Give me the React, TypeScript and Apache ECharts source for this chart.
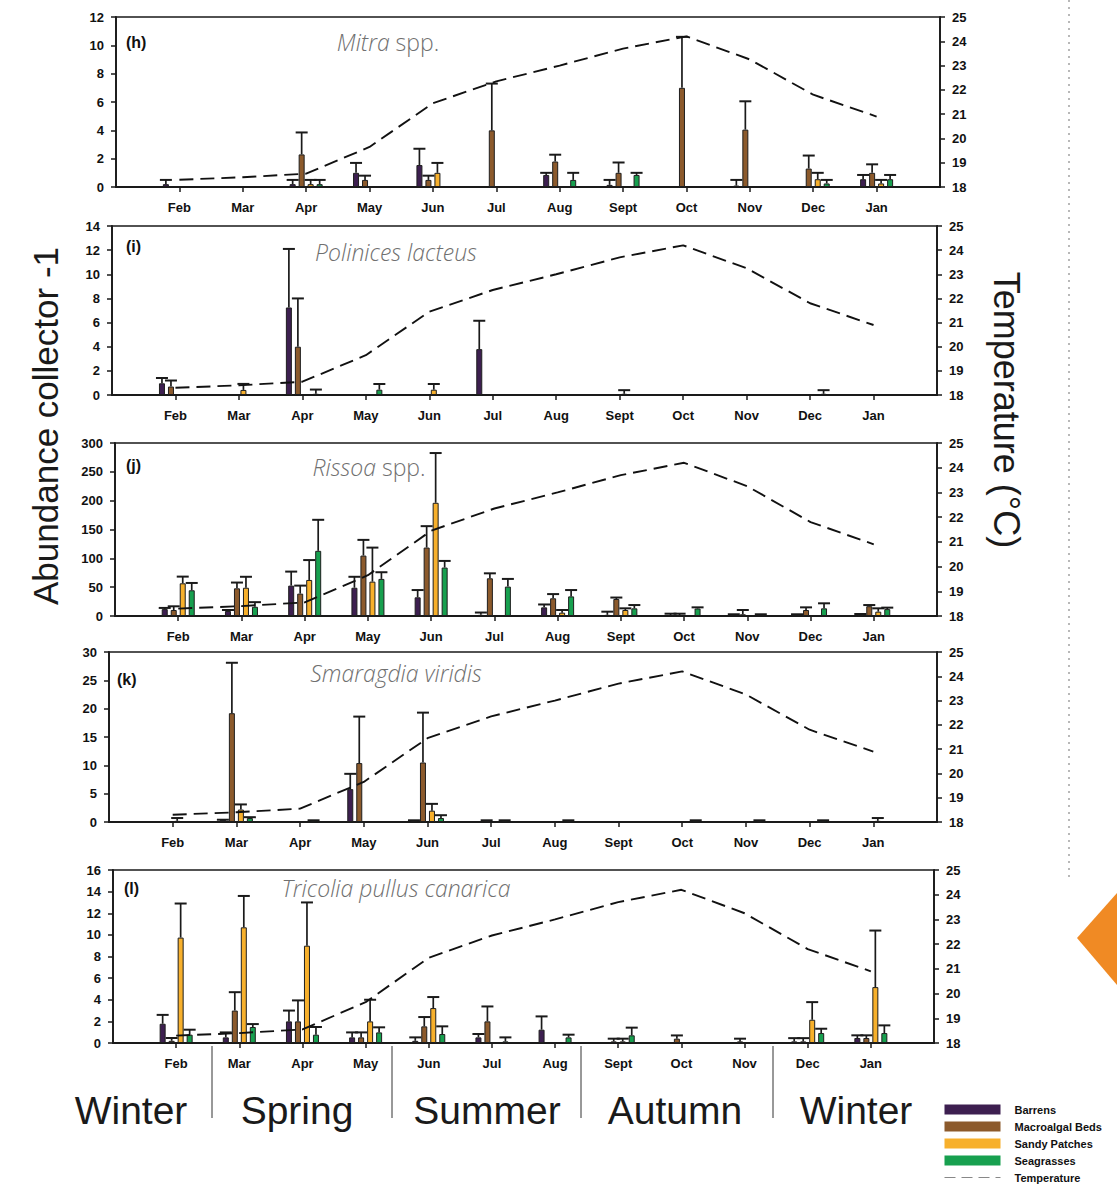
import React, { useEffect, useRef } from 'react';
import * as echarts from 'echarts';

const months = ['Feb', 'Mar', 'Apr', 'May', 'Jun', 'Jul', 'Aug', 'Sept', 'Oct', 'Nov', 'Dec', 'Jan'];
const temperature = [18.3, 18.4, 18.55, 19.65, 21.45, 22.35, 23.0, 23.7, 24.2, 23.25, 21.8, 20.9];

const habitats = ['Barrens', 'Macroalgal Beds', 'Sandy Patches', 'Seagrasses'];
const habitatColors = ['#3d1f50', '#8c5a2c', '#f7b02c', '#17a04f'];

// (h) Mitra spp.
const mitraBarrens = [0.2, 0, 0.2, 1.0, 1.55, 0, 0.85, 0.15, 0, 0.1, 0, 0.55];
const mitraBarrensErr = [0.3, 0, 0.3, 0.7, 1.15, 0, 0.15, 0.35, 0, 0.4, 0, 0.3];
const mitraMacro = [0, 0, 2.3, 0.5, 0.5, 4.0, 1.8, 1.0, 7.0, 4.05, 1.3, 1.0];
const mitraMacroErr = [0, 0, 1.55, 0.3, 0.3, 3.3, 0.48, 0.73, 3.6, 2.0, 0.92, 0.6];
const mitraSandy = [0, 0, 0.2, 0, 1.0, 0, 0, 0, 0, 0, 0.55, 0.25];
const mitraSandyErr = [0, 0, 0.3, 0, 0.7, 0, 0, 0, 0, 0, 0.45, 0.25];
const mitraSeagrass = [0, 0, 0.2, 0, 0, 0, 0.5, 0.85, 0, 0, 0.25, 0.55];
const mitraSeagrassErr = [0, 0, 0.3, 0, 0, 0, 0.5, 0.15, 0, 0, 0.25, 0.3];

// (i) Polinices lacteus
const polBarrens = [0.97, 0, 7.25, 0, 0, 3.8, 0, 0, 0, 0, 0, 0];
const polBarrensErr = [0.44, 0, 4.85, 0, 0, 2.35, 0, 0, 0, 0, 0, 0];
const polMacro = [0.7, 0, 4.0, 0, 0, 0, 0, 0, 0, 0, 0, 0];
const polMacroErr = [0.5, 0, 4.0, 0, 0, 0, 0, 0, 0, 0, 0, 0];
const polSandy = [0, 0.42, 0, 0, 0.44, 0, 0, 0.1, 0, 0, 0, 0];
const polSandyErr = [0, 0.5, 0, 0, 0.47, 0, 0, 0.3, 0, 0, 0, 0];
const polSeagrass = [0, 0, 0.1, 0.44, 0, 0, 0, 0, 0, 0, 0.1, 0];
const polSeagrassErr = [0, 0, 0.35, 0.47, 0, 0, 0, 0, 0, 0, 0.3, 0];

// (j) Rissoa spp.
const risBarrens = [12, 8.7, 52.7, 49, 32.4, 2, 15, 2, 1, 1, 1, 1];
const risBarrensErr = [2, 1.7, 24.3, 19, 12.6, 4, 5, 5.5, 3, 2, 2, 2.5];
const risMacro = [10.4, 48, 38.8, 104.8, 118.7, 65.4, 30.7, 29.5, 1, 3, 10.4, 17];
const risMacroErr = [6.4, 10, 13.9, 27.2, 37.1, 8.6, 7.3, 2.5, 3, 7.4, 4.6, 2];
const risSandy = [56.7, 49, 62.5, 59.6, 196.3, 0, 5.8, 10.4, 0, 0, 0, 7.5];
const risSandyErr = [11.6, 19, 34.5, 59, 86.3, 0, 4.6, 2.9, 0, 0, 0, 5.8];
const risSeagrass = [44.6, 16, 113, 64.3, 84, 51, 34, 13.3, 13, 1, 13.3, 12];
const risSeagrassErr = [12.7, 8, 53.8, 11.6, 11.5, 13.3, 11, 5.7, 2, 2, 8.7, 2.5];

// (k) Smaragdia viridis
const smaBarrens = [0, 0.4, 0, 5.8, 0.3, 0, 0, 0, 0, 0, 0, 0];
const smaBarrensErr = [0, 0, 0, 2.7, 0, 0, 0, 0, 0, 0, 0, 0];
const smaMacro = [0, 19.2, 0, 10.4, 10.5, 0.3, 0, 0, 0, 0, 0, 0];
const smaMacroErr = [0, 8.9, 0, 8.2, 8.8, 0, 0, 0, 0, 0, 0, 0];
const smaSandy = [0.2, 2.2, 0, 0, 2.0, 0, 0, 0, 0, 0, 0, 0.2];
const smaSandyErr = [0.5, 0.9, 0, 0, 1.2, 0, 0, 0, 0, 0, 0, 0.5];
const smaSeagrass = [0, 0.7, 0.3, 0, 0.7, 0.3, 0.3, 0, 0.3, 0.3, 0.3, 0];
const smaSeagrassErr = [0, 0.15, 0, 0, 0.5, 0, 0, 0, 0, 0, 0, 0];

// (l) Tricolia pullus canarica
const triBarrens = [1.78, 0.52, 2.0, 0.52, 0.2, 0.52, 1.23, 0, 0, 0, 0.15, 0.46];
const triBarrensErr = [0.82, 0.46, 1.0, 0.46, 0.32, 0.31, 1.23, 0, 0, 0, 0.3, 0.25];
const triMacro = [0.2, 3.0, 2.0, 0.52, 1.54, 2.0, 0, 0.15, 0.4, 0.15, 0.15, 0.46];
const triMacroErr = [0.26, 1.7, 1.94, 0.46, 0.86, 1.38, 0, 0.25, 0.3, 0.25, 0.3, 0.25];
const triSandy = [9.75, 10.7, 9.0, 2.0, 3.23, 0, 0, 0.15, 0, 0, 2.15, 5.17];
const triSandyErr = [3.15, 2.9, 4.0, 2.0, 1.02, 0, 0, 0.25, 0, 0, 1.63, 5.23];
const triSeagrass = [0.77, 1.48, 0.77, 0.98, 0.83, 0.15, 0.52, 0.71, 0, 0, 0.92, 0.92];
const triSeagrassErr = [0.46, 0.27, 0.71, 0.47, 0.71, 0.37, 0.25, 0.71, 0, 0, 0.4, 0.71];

const panelMeans = [
  [mitraBarrens, mitraMacro, mitraSandy, mitraSeagrass],
  [polBarrens, polMacro, polSandy, polSeagrass],
  [risBarrens, risMacro, risSandy, risSeagrass],
  [smaBarrens, smaMacro, smaSandy, smaSeagrass],
  [triBarrens, triMacro, triSandy, triSeagrass],
];
const panelErrs = [
  [mitraBarrensErr, mitraMacroErr, mitraSandyErr, mitraSeagrassErr],
  [polBarrensErr, polMacroErr, polSandyErr, polSeagrassErr],
  [risBarrensErr, risMacroErr, risSandyErr, risSeagrassErr],
  [smaBarrensErr, smaMacroErr, smaSandyErr, smaSeagrassErr],
  [triBarrensErr, triMacroErr, triSandyErr, triSeagrassErr],
];
const panelYMax = [12, 14, 300, 30, 16];
const panelYInterval = [2, 2, 50, 5, 2];
const panelTags = ['(h)', '(i)', '(j)', '(k)', '(l)'];
const speciesItalic = ['Mitra', 'Polinices lacteus', 'Rissoa', 'Smaragdia viridis', 'Tricolia pullus canarica'];
const speciesRoman = [' spp.', '', ' spp.', '', ''];
const seasons = ['Winter', 'Spring', 'Summer', 'Autumn', 'Winter'];

// layout (pixels)
const panelGrids = [
  { left: 116, right: 177, top: 17, height: 170 },
  { left: 112, right: 180, top: 226, height: 169 },
  { left: 115, right: 180, top: 443, height: 173 },
  { left: 109, right: 180, top: 652, height: 170 },
  { left: 113, right: 183, top: 870, height: 173 },
];
const tagPos = [[126, 42], [126, 246], [126, 465], [117, 679], [124, 888]];
const titlePos = [[388, 42], [396, 252], [369, 467], [396, 673], [396, 888]];
const seasonX = [131, 297, 487, 675, 856];
const separatorX = [212, 392, 581, 773];

const BAR_W = 6;
const BAR_STEP = 9;
const CAP_HALF = 6;
const AXIS_FONT = 'Liberation Sans';

export default function App() {
  const ref = useRef<HTMLDivElement>(null);

  useEffect(() => {
    if (!ref.current) return;
    const chart = echarts.init(ref.current, null, { renderer: 'svg' });
    const cats = ['', ...months, ''];

    const grid: any[] = [];
    const xAxis: any[] = [];
    const yAxis: any[] = [];
    const series: any[] = [];
    const graphic: any[] = [];

    panelGrids.forEach((g, gi) => {
      grid.push({ ...g, show: true, borderColor: '#1a1a1a', borderWidth: 1.5, backgroundColor: 'transparent' });
      xAxis.push({
        type: 'category',
        gridIndex: gi,
        data: cats,
        boundaryGap: false,
        axisLine: { lineStyle: { color: '#1a1a1a', width: 1.8 } },
        axisTick: {
          length: 5,
          lineStyle: { color: '#1a1a1a', width: 1.5 },
          interval: (i: number) => i >= 1 && i <= 12,
        },
        axisLabel: {
          interval: 0,
          margin: 14,
          color: '#111',
          fontFamily: AXIS_FONT,
          fontWeight: 'bold',
          fontSize: 13,
        },
        splitLine: { show: false },
      });
      yAxis.push({
        type: 'value',
        gridIndex: gi,
        position: 'left',
        min: 0,
        max: panelYMax[gi],
        interval: panelYInterval[gi],
        axisLine: { show: true, lineStyle: { color: '#1a1a1a', width: 1.8 } },
        axisTick: { show: true, length: 5, lineStyle: { color: '#1a1a1a', width: 1.5 } },
        axisLabel: { margin: 12, color: '#111', fontFamily: AXIS_FONT, fontWeight: 'bold', fontSize: 13 },
        splitLine: { show: false },
      });
      yAxis.push({
        type: 'value',
        gridIndex: gi,
        position: 'right',
        min: 18,
        max: 25,
        interval: 1,
        axisLine: { show: true, lineStyle: { color: '#1a1a1a', width: 1.8 } },
        axisTick: { show: true, length: 5, lineStyle: { color: '#1a1a1a', width: 1.5 } },
        axisLabel: { margin: 12, color: '#111', fontFamily: AXIS_FONT, fontWeight: 'bold', fontSize: 13 },
        splitLine: { show: false },
      });

      habitats.forEach((h, hi) => {
        const means = panelMeans[gi][hi];
        series.push({
          type: 'bar',
          name: h,
          xAxisIndex: gi,
          yAxisIndex: gi * 2,
          barWidth: BAR_W,
          barGap: '50%',
          data: ['-', ...means.map((v) => (v > 0 ? v : '-')), '-'],
          itemStyle: { color: habitatColors[hi], borderColor: '#1e1e1e', borderWidth: 1 },
          z: 2,
        });
      });
      habitats.forEach((h, hi) => {
        const means = panelMeans[gi][hi];
        const errs = panelErrs[gi][hi];
        const offset = (hi - 1.5) * BAR_STEP;
        series.push({
          type: 'custom',
          name: h + ' SE',
          xAxisIndex: gi,
          yAxisIndex: gi * 2,
          silent: true,
          z: 4,
          encode: { x: 0, y: 1 },
          data: means
            .map((m, i) => [i + 1, m, errs[i]])
            .filter((d) => d[1] > 0),
          renderItem: (params: any, api: any) => {
            const base = api.coord([api.value(0), api.value(1)]);
            const top = api.coord([api.value(0), api.value(1) + api.value(2)]);
            const x = base[0] + offset;
            const st = { stroke: '#1a1a1a', lineWidth: 1.7 };
            return {
              type: 'group',
              children: [
                { type: 'line', shape: { x1: x, y1: base[1], x2: x, y2: top[1] }, style: st },
                { type: 'line', shape: { x1: x - CAP_HALF, y1: top[1], x2: x + CAP_HALF, y2: top[1] }, style: { ...st, lineWidth: 2 } },
              ],
            };
          },
        });
      });
      series.push({
        type: 'line',
        name: 'Temperature',
        xAxisIndex: gi,
        yAxisIndex: gi * 2 + 1,
        data: ['-', ...temperature, '-'],
        symbol: 'none',
        smooth: false,
        itemStyle: { color: '#111' },
        lineStyle: { color: '#111', width: 1.9, type: [14, 7] },
        z: 5,
      });

      graphic.push({
        type: 'text',
        x: tagPos[gi][0],
        y: tagPos[gi][1],
        style: { text: panelTags[gi], font: `bold 16px ${AXIS_FONT}`, fill: '#111', verticalAlign: 'middle' },
      });
      const richText = speciesRoman[gi]
        ? `{i|${speciesItalic[gi]}}{n|${speciesRoman[gi]}}`
        : `{i|${speciesItalic[gi]}}`;
      graphic.push({
        type: 'text',
        x: titlePos[gi][0],
        y: titlePos[gi][1],
        style: {
          text: richText,
          align: 'center',
          verticalAlign: 'middle',
          rich: {
            i: { fontFamily: 'Open Sans', fontStyle: 'italic', fontWeight: 300, fontSize: 23, fill: '#707070' },
            n: { fontFamily: 'Open Sans', fontWeight: 300, fontSize: 23, fill: '#707070' },
          },
        },
      });
    });

    // axis titles
    graphic.push({
      type: 'text',
      x: 45,
      y: 426,
      rotation: Math.PI / 2,
      style: { text: 'Abundance collector -1', font: `35px ${AXIS_FONT}`, fill: '#1a1a1a', align: 'center', verticalAlign: 'middle' },
    });
    graphic.push({
      type: 'text',
      x: 1006,
      y: 410,
      rotation: -Math.PI / 2,
      style: { text: 'Temperature (°C)', font: `36px ${AXIS_FONT}`, fill: '#1a1a1a', align: 'center', verticalAlign: 'middle' },
    });

    // seasons
    seasons.forEach((s, i) => {
      graphic.push({
        type: 'text',
        x: seasonX[i],
        y: 1110,
        style: { text: s, font: `39px ${AXIS_FONT}`, fill: '#1a1a1a', align: 'center', verticalAlign: 'middle' },
      });
    });
    separatorX.forEach((x) => {
      graphic.push({
        type: 'line',
        shape: { x1: x, y1: 1046, x2: x, y2: 1118 },
        style: { stroke: '#333', lineWidth: 1 },
      });
    });

    // page decorations
    graphic.push({
      type: 'line',
      shape: { x1: 1069, y1: 0, x2: 1069, y2: 880 },
      style: { stroke: '#b8b8b8', lineWidth: 2, lineDash: [2, 5] },
    });
    graphic.push({
      type: 'polygon',
      shape: { points: [[1117, 893], [1077, 938], [1117, 985]] },
      style: { fill: '#f08a24' },
    });

    chart.setOption({
      animation: false,
      backgroundColor: '#ffffff',
      grid,
      xAxis,
      yAxis,
      series,
      graphic,
      legend: {
        orient: 'vertical',
        left: 944,
        top: 1104,
        width: 170,
        height: 110,
        padding: 0,
        itemWidth: 56,
        itemHeight: 10,
        itemGap: 6,
        selectedMode: false,
        textStyle: { fontFamily: AXIS_FONT, fontWeight: 'bold', fontSize: 11, lineHeight: 10, color: '#111', padding: [0, 0, 0, 9] },
        data: [
          ...habitats.map((h, i) => ({ name: h, icon: 'rect', itemStyle: { color: habitatColors[i], borderWidth: 0 } })),
          {
            name: 'Temperature',
            itemStyle: { color: 'rgba(0,0,0,0)', borderWidth: 0, opacity: 0 },
            lineStyle: { color: '#888', width: 1, type: [11, 6] },
          },
        ],
      },
    });

    return () => chart.dispose();
  }, []);

  return (
    <div
      ref={ref}
      style={{ position: 'absolute', left: 0, top: 0, width: 1117, height: 1186, background: '#fff' }}
    />
  );
}
